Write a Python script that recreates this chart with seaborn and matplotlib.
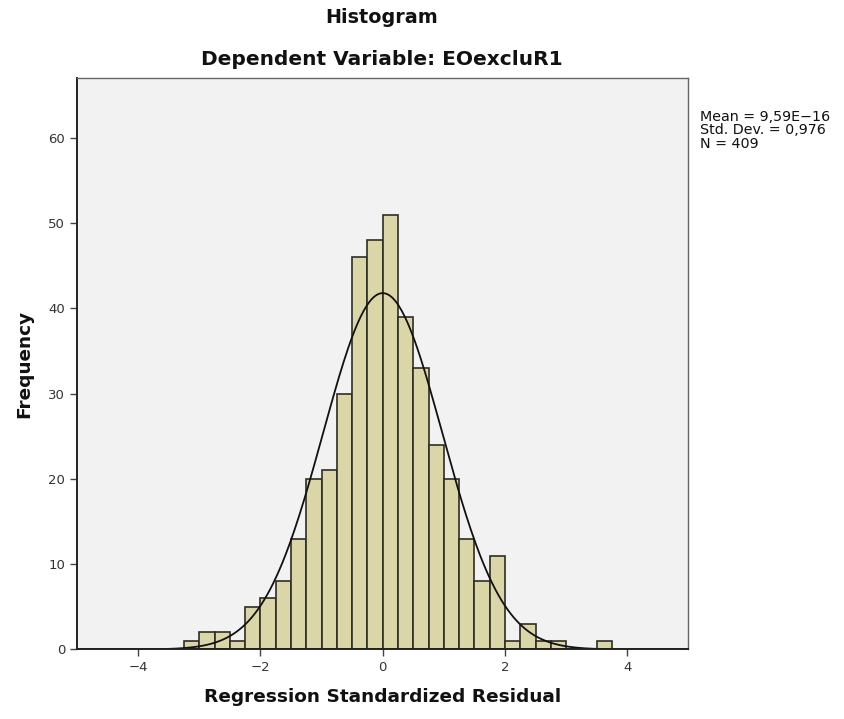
import numpy as np
import pandas as pd
import seaborn as sns
import matplotlib.pyplot as plt

# Histogram bins (left edges, width 0.25) and counts
bin_left = [-3.25, -3.0, -2.75, -2.5, -2.25, -2.0, -1.75, -1.5, -1.25, -1.0,
            -0.75, -0.5, -0.25, 0.0, 0.25, 0.5, 0.75, 1.0, 1.25, 1.5,
            1.75, 2.0, 2.25, 2.5, 2.75, 3.0, 3.25, 3.5]
counts = [1, 2, 2, 1, 5, 6, 8, 13, 20, 21,
          30, 46, 48, 51, 39, 33, 24, 20, 13, 8,
          11, 1, 3, 1, 1, 0, 0, 1]
bin_width = 0.25

mean = 9.59e-16
std = 0.976
n = 409

x_ticks = [-4, -2, 0, 2, 4]
y_ticks = [0, 10, 20, 30, 40, 50, 60]

df = pd.DataFrame({'resid': np.array(bin_left) + bin_width / 2, 'count': counts})

sns.set_style('ticks')
plt.rcParams['font.family'] = ['DejaVu Sans']

fig = plt.figure(figsize=(8.44, 7.19), dpi=100)
ax = fig.add_axes([0.0912, 0.0967, 0.7245, 0.7945])
ax.set_facecolor('#f2f2f2')

sns.histplot(data=df, x='resid', weights='count', binwidth=bin_width,
             binrange=(bin_left[0], bin_left[-1] + bin_width), ax=ax,
             color='#dbd6a8', alpha=1, edgecolor='#2e2e26', linewidth=1.2)

# normal curve scaled to the histogram
xs = np.linspace(-5, 5, 400)
ys = n * bin_width * np.exp(-0.5 * ((xs - mean) / std) ** 2) / (std * np.sqrt(2 * np.pi))
sns.lineplot(x=xs, y=ys, ax=ax, color='#111111', linewidth=1.3)

ax.set_xlim(-5, 5)
ax.set_ylim(0, 67)
ax.set_xticks(x_ticks)
ax.set_yticks(y_ticks)
ax.set_xticklabels(['\u22124', '\u22122', '0', '2', '4'])
ax.tick_params(axis='both', direction='out', length=5, width=1, colors='#444444',
               labelsize=9.5, labelcolor='#333333')

for side in ['top', 'right']:
    ax.spines[side].set_color('#666666')
    ax.spines[side].set_linewidth(1)
for side in ['left', 'bottom']:
    ax.spines[side].set_color('#222222')
    ax.spines[side].set_linewidth(1.4)

ax.set_xlabel('Regression Standardized Residual', fontsize=13.3, fontweight='bold',
              labelpad=10, color='#111111')
ax.set_ylabel('Frequency', fontsize=13.3, fontweight='bold', labelpad=11, color='#111111')

fig.text(0.4526, 0.975, 'Histogram', ha='center', va='center', fontsize=13.8,
         fontweight='bold', color='#111111')
fig.text(0.4526, 0.917, 'Dependent Variable: EOexcluR1', ha='center', va='center',
         fontsize=14.5, fontweight='bold', color='#111111')
fig.text(0.829, 0.847, 'Mean = 9,59E\u221216\nStd. Dev. = 0,976\nN = 409',
         ha='left', va='top', fontsize=10.3, linespacing=0.95, color='#111111')

fig.savefig('out.png', dpi=100)
